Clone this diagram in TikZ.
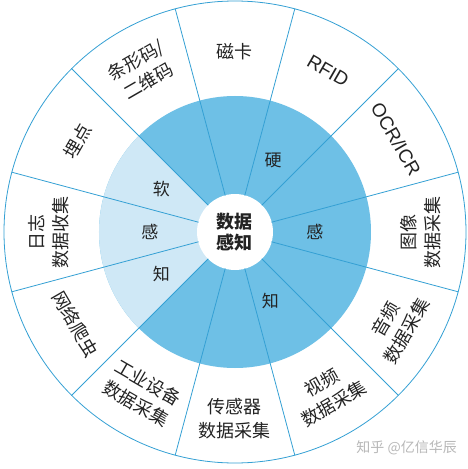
\documentclass[tikz,border=0pt]{standalone}
\usepackage{fontspec}
\setmainfont{Noto Sans CJK SC}
\newfontfamily\latinsans{Liberation Sans}
\usepackage{xcolor}
\definecolor{ringdark}{RGB}{110,192,230}
\definecolor{ringlight}{RGB}{207,232,246}
\definecolor{rimblue}{RGB}{52,160,212}
\definecolor{inkgray}{RGB}{35,35,35}

\tikzset{
  outerlabel/.style={text=inkgray,font=\fontsize{18}{24}\selectfont,align=center,inner sep=0pt},
  latinlabel/.style={text=inkgray,font=\latinsans\fontsize{19}{24}\selectfont,inner sep=0pt},
  ringlabel/.style={text=inkgray,font=\fontsize{17}{20}\selectfont,inner sep=0pt},
  spoke/.style={line width=0.8pt,color=rimblue}
}

\begin{document}
\begin{tikzpicture}[line cap=round,line join=round,x=1pt,y=1pt]
                \useasboundingbox (-235,-237) rectangle (233,232);
                \fill [white] (-235,-237) rectangle (233,232);
                % rings
                \fill [ringdark] (0,0) circle (136);
                \fill [ringlight] (0,0) -- (135:136) arc (135:225:136) -- cycle;
                \fill [white] (0,0) circle (38);
                \draw [spoke] (0,0) circle (231);
                % spokes
                \draw [spoke] (15:38) -- (15:231);
                \draw [spoke] (45:38) -- (45:231);
                \draw [spoke] (75:38) -- (75:231);
                \draw [spoke] (105:38) -- (105:231);
                \draw [spoke] (135:38) -- (135:231);
                \draw [spoke] (165:38) -- (165:231);
                \draw [spoke] (195:38) -- (195:231);
                \draw [spoke] (225:38) -- (225:231);
                \draw [spoke] (255:38) -- (255:231);
                \draw [spoke] (285:38) -- (285:231);
                \draw [spoke] (315:38) -- (315:231);
                \draw [spoke] (345:38) -- (345:231);
                % centre
                \node [text=inkgray,font=\fontsize{18}{21}\selectfont\bfseries,align=center,inner sep=0pt] (shuju) at (0,0) {数据\\感知};
                % soft / hard ring
                \node [ringlabel] (ruan) at (150:85) {软};
                \node [ringlabel] (ganL) at (180:85) {感};
                \node [ringlabel] (zhiL) at (210:85) {知};
                \node [ringlabel] (ying) at (62:81) {硬};
                \node [ringlabel] (ganR) at (0:80) {感};
                \node [ringlabel] (zhiR) at (-63:78) {知};
                % outer ring
                \node [outerlabel,rotate=0] (cika) at (90:180) {磁卡};
                \node [latinlabel,rotate=-30] (rfid) at (60:186) {RFID};
                \node [latinlabel,rotate=-60] (ocr) at (30:186) {OCR/ICR};
                \node [outerlabel,rotate=90] (tuxiang) at (0:186) {图像\\数据采集};
                \node [outerlabel,rotate=60] (yinpin) at (-30:186) {音频\\数据采集};
                \node [outerlabel,rotate=30] (shipin) at (-60:186) {视频\\数据采集};
                \node [outerlabel,rotate=0] (chuanganqi) at (-90:187) {传感器\\数据采集};
                \node [outerlabel,rotate=-30] (gongye) at (-120:186) {工业设备\\数据采集};
                \node [outerlabel,rotate=-60] (wangluo) at (-150:184) {网络爬虫};
                \node [outerlabel,rotate=90] (rizhi) at (180:186) {日志\\数据收集};
                \node [outerlabel,rotate=60] (maidian) at (150:182) {埋点};
                \node [outerlabel,rotate=30] (tiaoxing) at (120:186) {条形码/\\二维码};
                % watermark
                \node [text=black!28,font=\fontsize{14}{16}\selectfont,anchor=east,inner sep=0pt] (zhihu) at (222,-216) {知乎 @亿信华辰};
\end{tikzpicture}
\end{document}
